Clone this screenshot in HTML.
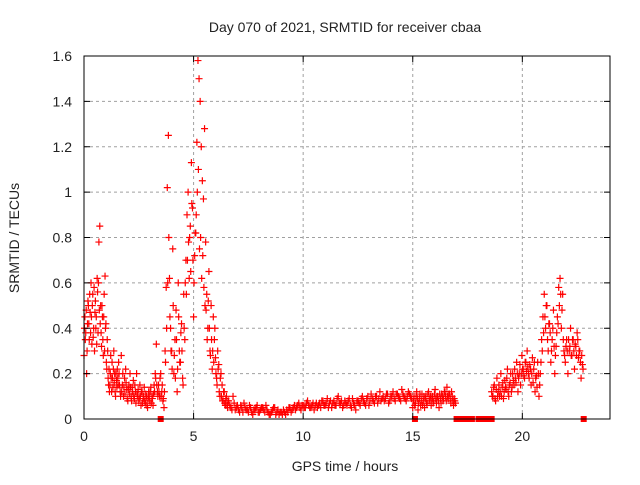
<!DOCTYPE html>
<html><head><meta charset="utf-8"><style>
body{margin:0;background:#fff}
svg text{font-family:"Liberation Sans",sans-serif;font-size:14px;fill:#222}
</style></head><body>
<svg id="chart" width="640" height="480" xmlns="http://www.w3.org/2000/svg">
<rect width="640" height="480" fill="#fff"/>
<text x="345" y="32" text-anchor="middle">Day 070 of 2021, SRMTID for receiver cbaa</text>
<text x="345" y="471" text-anchor="middle">GPS time / hours</text>
<text transform="translate(19,238) rotate(-90)" text-anchor="middle">SRMTID / TECUs</text>
<g id="grid"></g>
<g id="marks"></g>
<rect x="84" y="56" width="526" height="363" fill="none" stroke="#000" stroke-width="1"/>
<g id="ticks"></g>
</svg>
<script>
const xTicks=[0,5,10,15,20];
const yTicks=[0,0.2,0.4,0.6,0.8,1,1.2,1.4,1.6];
const yTickLabels=["0","0.2","0.4","0.6","0.8","1","1.2","1.4","1.6"];
const segStart=[0.0,1.6,3.4,6.6,15.0,18.6,0.02,1.62,3.42,6.65,15.03,18.63];
const segStep=[0.04,0.05,0.05,0.1,0.06,0.06,0.04,0.05,0.05,0.1,0.06,0.06];
const segA=[0.28,0.45,0.38,0.2,0.42,0.5,0.35,0.47,0.6,0.33,0.55,0.4,0.3,0.52,0.45,0.62,0.38,0.78,0.85,0.5,0.32,0.45,0.28,0.55,0.63,0.42,0.22,0.3,0.15,0.12,0.2,0.18,0.25,0.14,0.3,0.2,0.1,0.17,0.22,0.15];
const segB=[0.2,0.12,0.28,0.15,0.1,0.18,0.22,0.13,0.08,0.15,0.2,0.1,0.14,0.17,0.09,0.12,0.2,0.1,0.08,0.15,0.06,0.12,0.09,0.14,0.07,0.1,0.05,0.12,0.08,0.14,0.1,0.06,0.15,0.2,0.33,0.12];
const segC=[0.15,0.1,0.2,0.12,0.08,0.05,0.3,0.58,1.02,1.25,0.62,0.4,0.3,0.75,0.2,0.35,0.48,0.12,0.6,0.3,0.25,0.42,0.18,0.55,0.35,0.7,0.9,1.0,0.62,0.85,1.13,0.93,0.45,0.72,0.82,1.22,1.58,1.5,1.4,1.2,1.05,0.97,1.28,0.78,0.55,0.4,0.65,0.3,0.5,0.22,0.45,0.35,0.27,0.18,0.3,0.24,0.1,0.2,0.15,0.08,0.12,0.06,0.1,0.05];
const segD=[0.08,0.05,0.1,0.04,0.06,0.03,0.05,0.07,0.04,0.03,0.05,0.02,0.04,0.06,0.03,0.05,0.04,0.06,0.03,0.02,0.04,0.05,0.03,0.02,0.03,0.04,0.02,0.03,0.05,0.04,0.06,0.05,0.07,0.04,0.06,0.05,0.08,0.05,0.06,0.04,0.07,0.06,0.05,0.08,0.06,0.09,0.07,0.05,0.08,0.06,0.1,0.07,0.05,0.08,0.06,0.09,0.05,0.07,0.04,0.08,0.06,0.1,0.07,0.09,0.06,0.11,0.08,0.1,0.07,0.12,0.09,0.08,0.11,0.07,0.1,0.12,0.08,0.11,0.09,0.13,0.1,0.08,0.12,0.1];
const segE=[0.05,0.1,0.07,0.12,0.04,0.09,0.06,0.11,0.08,0.05,0.1,0.07,0.12,0.09,0.06,0.1,0.08,0.13,0.07,0.1,0.05,0.09,0.11,0.08,0.12,0.1,0.14,0.09,0.11,0.07,0.1,0.06,0.08];
const segF=[0.12,0.1,0.15,0.08,0.18,0.12,0.1,0.2,0.14,0.09,0.17,0.13,0.22,0.1,0.16,0.12,0.2,0.15,0.18,0.25,0.12,0.2,0.15,0.28,0.22,0.18,0.25,0.3,0.2,0.24,0.15,0.27,0.22,0.12,0.19,0.25,0.1,0.2,0.35,0.45,0.55,0.4,0.5,0.3,0.42,0.25,0.35,0.48,0.2,0.32,0.45,0.58,0.62,0.4,0.55,0.3,0.25,0.35,0.2,0.3,0.4,0.28,0.35,0.22,0.32,0.38,0.27,0.3,0.18,0.24];
const segA2=[0.4,0.35,0.48,0.3,0.52,0.42,0.55,0.38,0.45,0.5,0.36,0.58,0.47,0.4,0.33,0.56,0.6,0.48,0.42,0.38,0.5,0.35,0.45,0.3,0.4,0.25,0.35,0.18,0.22,0.15,0.28,0.12,0.18,0.22,0.16,0.12,0.2,0.14,0.18,0.25];
const segB2=[0.15,0.1,0.12,0.2,0.14,0.11,0.16,0.09,0.13,0.11,0.14,0.08,0.12,0.1,0.15,0.07,0.11,0.13,0.09,0.1,0.12,0.07,0.1,0.08,0.11,0.06,0.09,0.1,0.12,0.07,0.09,0.11,0.12,0.18,0.15,0.1];
const segC2=[0.12,0.18,0.1,0.15,0.09,0.12,0.25,0.4,0.6,0.8,0.45,0.3,0.22,0.5,0.28,0.18,0.35,0.22,0.45,0.25,0.38,0.3,0.15,0.4,0.6,0.55,0.7,0.78,0.8,0.65,0.95,0.7,0.6,0.82,0.9,1.0,1.1,0.75,0.8,0.62,0.72,0.58,0.5,0.48,0.35,0.52,0.4,0.28,0.35,0.3,0.25,0.4,0.2,0.15,0.22,0.12,0.18,0.1,0.08,0.12,0.07,0.09,0.06,0.08];
const segD2=[0.06,0.04,0.07,0.05,0.04,0.06,0.03,0.05,0.04,0.06,0.03,0.04,0.05,0.03,0.04,0.05,0.03,0.04,0.02,0.03,0.05,0.02,0.04,0.03,0.02,0.03,0.04,0.05,0.03,0.05,0.04,0.06,0.05,0.06,0.05,0.07,0.06,0.05,0.07,0.06,0.05,0.07,0.08,0.06,0.07,0.05,0.08,0.07,0.06,0.09,0.07,0.08,0.06,0.07,0.08,0.06,0.09,0.06,0.08,0.07,0.09,0.08,0.06,0.1,0.08,0.09,0.07,0.1,0.09,0.08,0.1,0.09,0.11,0.08,0.1,0.09,0.11,0.1,0.08,0.11,0.09,0.1,0.11,0.09];
const segE2=[0.08,0.06,0.1,0.09,0.07,0.11,0.08,0.06,0.1,0.09,0.07,0.11,0.08,0.1,0.09,0.07,0.11,0.09,0.1,0.08,0.11,0.07,0.1,0.09,0.12,0.08,0.1,0.11,0.09,0.12,0.08,0.09,0.07];
const segF2=[0.1,0.14,0.09,0.13,0.1,0.15,0.12,0.1,0.16,0.12,0.14,0.18,0.12,0.15,0.2,0.14,0.17,0.22,0.16,0.2,0.18,0.24,0.2,0.22,0.19,0.25,0.21,0.23,0.18,0.22,0.2,0.16,0.25,0.18,0.14,0.2,0.15,0.25,0.3,0.38,0.45,0.5,0.35,0.42,0.38,0.3,0.4,0.32,0.28,0.38,0.42,0.5,0.55,0.48,0.35,0.28,0.32,0.3,0.35,0.32,0.28,0.35,0.3,0.33,0.28,0.35,0.3,0.25,0.28,0.22];
const zeroTimes=[3.5,15.1,17.0,17.1,17.3,17.5,17.7,18.0,18.2,18.4,18.6,22.8];

const NS="http://www.w3.org/2000/svg";
const X0=84,X1=610,Y0=419,Y1=56,XMAX=24,YMAX=1.6;
function xs(t){return X0+(X1-X0)*t/XMAX;}
function ys(v){return Y0-(Y0-Y1)*v/YMAX;}
function mk(tag,attrs,parent){const e=document.createElementNS(NS,tag);for(const k in attrs)e.setAttribute(k,attrs[k]);parent.appendChild(e);return e;}
const grid=document.getElementById('grid'),ticks=document.getElementById('ticks'),marks=document.getElementById('marks');
xTicks.forEach(t=>{const x=xs(t);
 if(t>0){const g=mk('line',{x1:x,x2:x,y1:Y0,y2:Y1,stroke:'#a0a0a0','stroke-dasharray':'3,3'},grid);
 
 }
 mk('line',{x1:x,x2:x,y1:Y0,y2:Y0-6,stroke:'#000'},ticks);mk('line',{x1:x,x2:x,y1:Y1,y2:Y1+6,stroke:'#000'},ticks);
 const l=mk('text',{x:x,y:Y0+22,'text-anchor':'middle'},ticks);l.textContent=String(t);
 
 });
yTicks.forEach((v,i)=>{const y=ys(v);
 if(v>0&&v<YMAX){const g=mk('line',{x1:X0,x2:X1,y1:y,y2:y,stroke:'#a0a0a0','stroke-dasharray':'3,3'},grid);
 
 }
 mk('line',{x1:X0,x2:X0+6,y1:y,y2:y,stroke:'#000'},ticks);mk('line',{x1:X1,x2:X1-6,y1:y,y2:y,stroke:'#000'},ticks);
 const l=mk('text',{x:72,y:y+5,'text-anchor':'end'},ticks);l.textContent=yTickLabels[i];
 
 });
const segs=[segA,segB,segC,segD,segE,segF,segA2,segB2,segC2,segD2,segE2,segF2];
segs.forEach((vals,s)=>{vals.forEach((v,i)=>{const t=segStart[s]+segStep[s]*i;const x=xs(t),y=ys(v);
 const p=mk('path',{d:`M${x-3.5},${y}h7M${x},${y-3.5}v7`,stroke:'#f00','stroke-width':1.2,fill:'none'},marks);
 
 });});
zeroTimes.forEach(t=>{const r=mk('rect',{x:xs(t)-3,y:Y0-3,width:6,height:6,fill:'#f00'},marks);
 
 });
</script>
</body></html>
